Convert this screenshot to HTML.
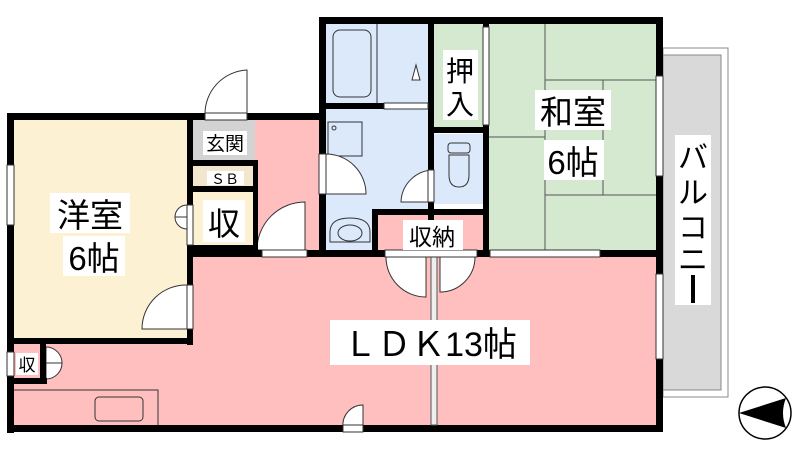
<!DOCTYPE html>
<html><head><meta charset="utf-8"><style>
html,body{margin:0;padding:0;background:#fff;width:800px;height:450px;overflow:hidden}
text{font-family:"Liberation Sans","Noto Sans CJK JP",sans-serif;fill:#000}
</style></head><body>
<svg width="800" height="450" viewBox="0 0 800 450" xmlns="http://www.w3.org/2000/svg">
<!-- fills -->
<rect x="193" y="255" width="465" height="172" fill="#ffbfbf"/>
<rect x="13" y="340" width="190" height="87" fill="#ffbfbf"/>
<rect x="13" y="119" width="175" height="220" fill="#fdf1d3"/>
<rect x="193" y="119" width="64" height="42" fill="#d3d3d3"/>
<rect x="193" y="166" width="60" height="20" fill="#f3e6cf"/>
<rect x="193" y="192" width="60" height="54" fill="#fdf1d3"/>
<rect x="255" y="119" width="66" height="140" fill="#ffbfbf"/>
<rect x="326" y="24" width="108" height="80" fill="#dbe9fb"/>
<rect x="326" y="108" width="108" height="145" fill="#dbe9fb"/>
<rect x="434" y="134" width="50" height="70" fill="#dbe9fb"/>
<rect x="434" y="24" width="54" height="104" fill="#d5e8d0"/>
<rect x="488" y="24" width="168" height="230" fill="#d5e8d0"/>
<rect x="378" y="214" width="106" height="40" fill="#ffbfbf"/>
<!-- balcony -->
<rect x="663" y="48" width="65" height="349" fill="#fff" stroke="#888" stroke-width="1"/>
<rect x="663" y="55" width="58" height="335" fill="#d9d9d9" stroke="#888" stroke-width="1"/>
<!-- tatami lines -->
<g stroke="#555" stroke-width="1" fill="none">
<line x1="545" y1="24" x2="545" y2="250"/>
<line x1="545" y1="80" x2="656" y2="80"/>
<line x1="603" y1="80" x2="603" y2="195"/>
<line x1="545" y1="195" x2="656" y2="195"/>
<line x1="488" y1="137" x2="545" y2="137"/>
</g>
<!-- fixtures -->
<g stroke="#333" stroke-width="1" fill="none">
<rect x="333" y="30" width="38" height="67" rx="7"/>
<line x1="377" y1="24" x2="377" y2="103"/>
<rect x="328" y="122" width="34" height="34"/>
<circle cx="334" cy="128" r="2"/>
<path d="M330 232 q0 -14 20 -14 q20 0 20 14 v10 h-40z"/>
<ellipse cx="350" cy="233" rx="12" ry="8"/>
<rect x="448" y="143" width="22" height="10" rx="3"/>
<path d="M449 155 h20 v20 q0 12 -10 12 q-10 0 -10 -12z"/>
<rect x="13" y="390" width="145" height="36"/>
<rect x="95" y="397" width="48" height="24" rx="4"/>
</g>
<!-- door swings -->
<g fill="#fff" stroke="#333" stroke-width="1">
<path d="M247 70 v44 h-42 a44 44 0 0 1 42 -44z"/>
<path d="M187 285 v44 h-45 a44 44 0 0 1 45 -44z"/>
<path d="M305 202 v48 h-48 a48 48 0 0 1 48 -48z"/>
<path d="M326 154 v40 h40 a40 40 0 0 0 -40 -40z"/>
<path d="M434 170 v32 h-33 a33 33 0 0 1 33 -32z"/>
<path d="M426 257 v40 a40 40 0 0 1 -40 -40z"/>
<path d="M440 257 v35 a35 35 0 0 0 35 -35z"/>
<path d="M363 405 v22 h-20 a20 20 0 0 1 20 -22z"/>
<path d="M187 205 a12 12 0 0 0 -12 12 h12z M187 229 a12 12 0 0 1 -12 -12 h12z"/>
<path d="M46 347 a16 16 0 0 1 16 16 h-16z M46 379 a16 16 0 0 0 16 -16 h-16z"/>
<path d="M412 80 l4 -15 l4 15z"/>
</g>
<!-- walls -->
<g fill="#000">
<rect x="7" y="113" width="318" height="7"/>
<rect x="7" y="113" width="7" height="320"/>
<rect x="7" y="425" width="656" height="7"/>
<rect x="319" y="17" width="344" height="7"/>
<rect x="656" y="17" width="7" height="415"/>
<rect x="319" y="17" width="7" height="240"/>
<rect x="187" y="113" width="6" height="232"/>
<rect x="7" y="338" width="186" height="6"/>
<rect x="187" y="250" width="476" height="7"/>
<rect x="193" y="160" width="64" height="6"/>
<rect x="193" y="186" width="64" height="6"/>
<rect x="253" y="160" width="5" height="90"/>
<rect x="193" y="245" width="64" height="5"/>
<rect x="326" y="103" width="108" height="6"/>
<rect x="428" y="17" width="6" height="235"/>
<rect x="483" y="17" width="6" height="238"/>
<rect x="434" y="127" width="54" height="6"/>
<rect x="372" y="209" width="116" height="6"/>
<rect x="372" y="209" width="6" height="45"/>
<rect x="7" y="378" width="40" height="6"/>
<rect x="40" y="344" width="6" height="40"/>
</g>
<rect x="431" y="257" width="6" height="168" fill="#eee" stroke="#555" stroke-width="1"/>
<!-- openings -->
<g fill="#fff" stroke="#333" stroke-width="1">
<rect x="205" y="113" width="42" height="7"/>
<rect x="262" y="250" width="45" height="7"/>
<rect x="319" y="154" width="7" height="40"/>
<rect x="384" y="103" width="44" height="6"/>
<rect x="428" y="170" width="6" height="32"/>
<rect x="187" y="285" width="6" height="44"/>
<rect x="187" y="205" width="6" height="40"/>
<rect x="385" y="250" width="92" height="7"/>
<rect x="343" y="425" width="20" height="7"/>
<rect x="7" y="165" width="7" height="60"/>
<rect x="7" y="352" width="7" height="24"/>
<rect x="490" y="250" width="110" height="7"/>
<rect x="656" y="76" width="7" height="100"/>
<rect x="656" y="274" width="7" height="85"/>
<rect x="483" y="27" width="6" height="98"/>
</g>
<!-- labels -->
<g>
<rect x="50" y="193" width="80" height="40" fill="#fff"/>
<text x="90" y="227" font-size="33" text-anchor="middle">洋室</text>
<rect x="63" y="236" width="62" height="40" fill="#fff"/>
<text x="94" y="270" font-size="33" text-anchor="middle">6帖</text>
<rect x="535" y="90" width="76" height="40" fill="#fff"/>
<text x="573" y="124" font-size="33" text-anchor="middle">和室</text>
<rect x="544" y="140" width="60" height="40" fill="#fff"/>
<text x="573" y="174" font-size="33" text-anchor="middle">6帖</text>
<rect x="330" y="320" width="200" height="45" fill="#fff"/>
<text x="430" y="356" font-size="34" text-anchor="middle">ＬＤＫ13帖</text>
<rect x="443" y="50" width="35" height="70" fill="#fff"/>
<text x="460" y="81" font-size="28" text-anchor="middle">押</text>
<text x="460" y="114" font-size="28" text-anchor="middle">入</text>
<rect x="203" y="131" width="44" height="24" fill="#fff"/>
<text x="225" y="150" font-size="19" text-anchor="middle">玄関</text>
<rect x="207" y="171" width="37" height="14" fill="#fff"/>
<text x="225" y="184" font-size="14" text-anchor="middle">ＳＢ</text>
<rect x="203" y="200" width="42" height="42" fill="#fff"/>
<text x="224" y="235" font-size="32" text-anchor="middle">収</text>
<rect x="403" y="220" width="60" height="30" fill="#fff"/>
<text x="432" y="245" font-size="23" text-anchor="middle">収納</text>
<rect x="16" y="353" width="22" height="22" fill="#fff"/>
<text x="27" y="371" font-size="17" text-anchor="middle">収</text>
<rect x="675" y="135" width="36" height="170" fill="#fff"/>
<text x="693" y="168" font-size="30" text-anchor="middle">バ</text>
<text x="693" y="203" font-size="30" text-anchor="middle">ル</text>
<text x="693" y="238" font-size="30" text-anchor="middle">コ</text>
<text x="693" y="270" font-size="30" text-anchor="middle">ニ</text>
<rect x="691" y="275" width="4" height="28" fill="#000"/>
</g>
<!-- compass -->
<circle cx="765" cy="413" r="26" fill="#fff" stroke="#000" stroke-width="1.5"/>
<path d="M739 413 L786 398 Q780 413 786 428 Z" fill="#000"/>
</svg>
</body></html>
